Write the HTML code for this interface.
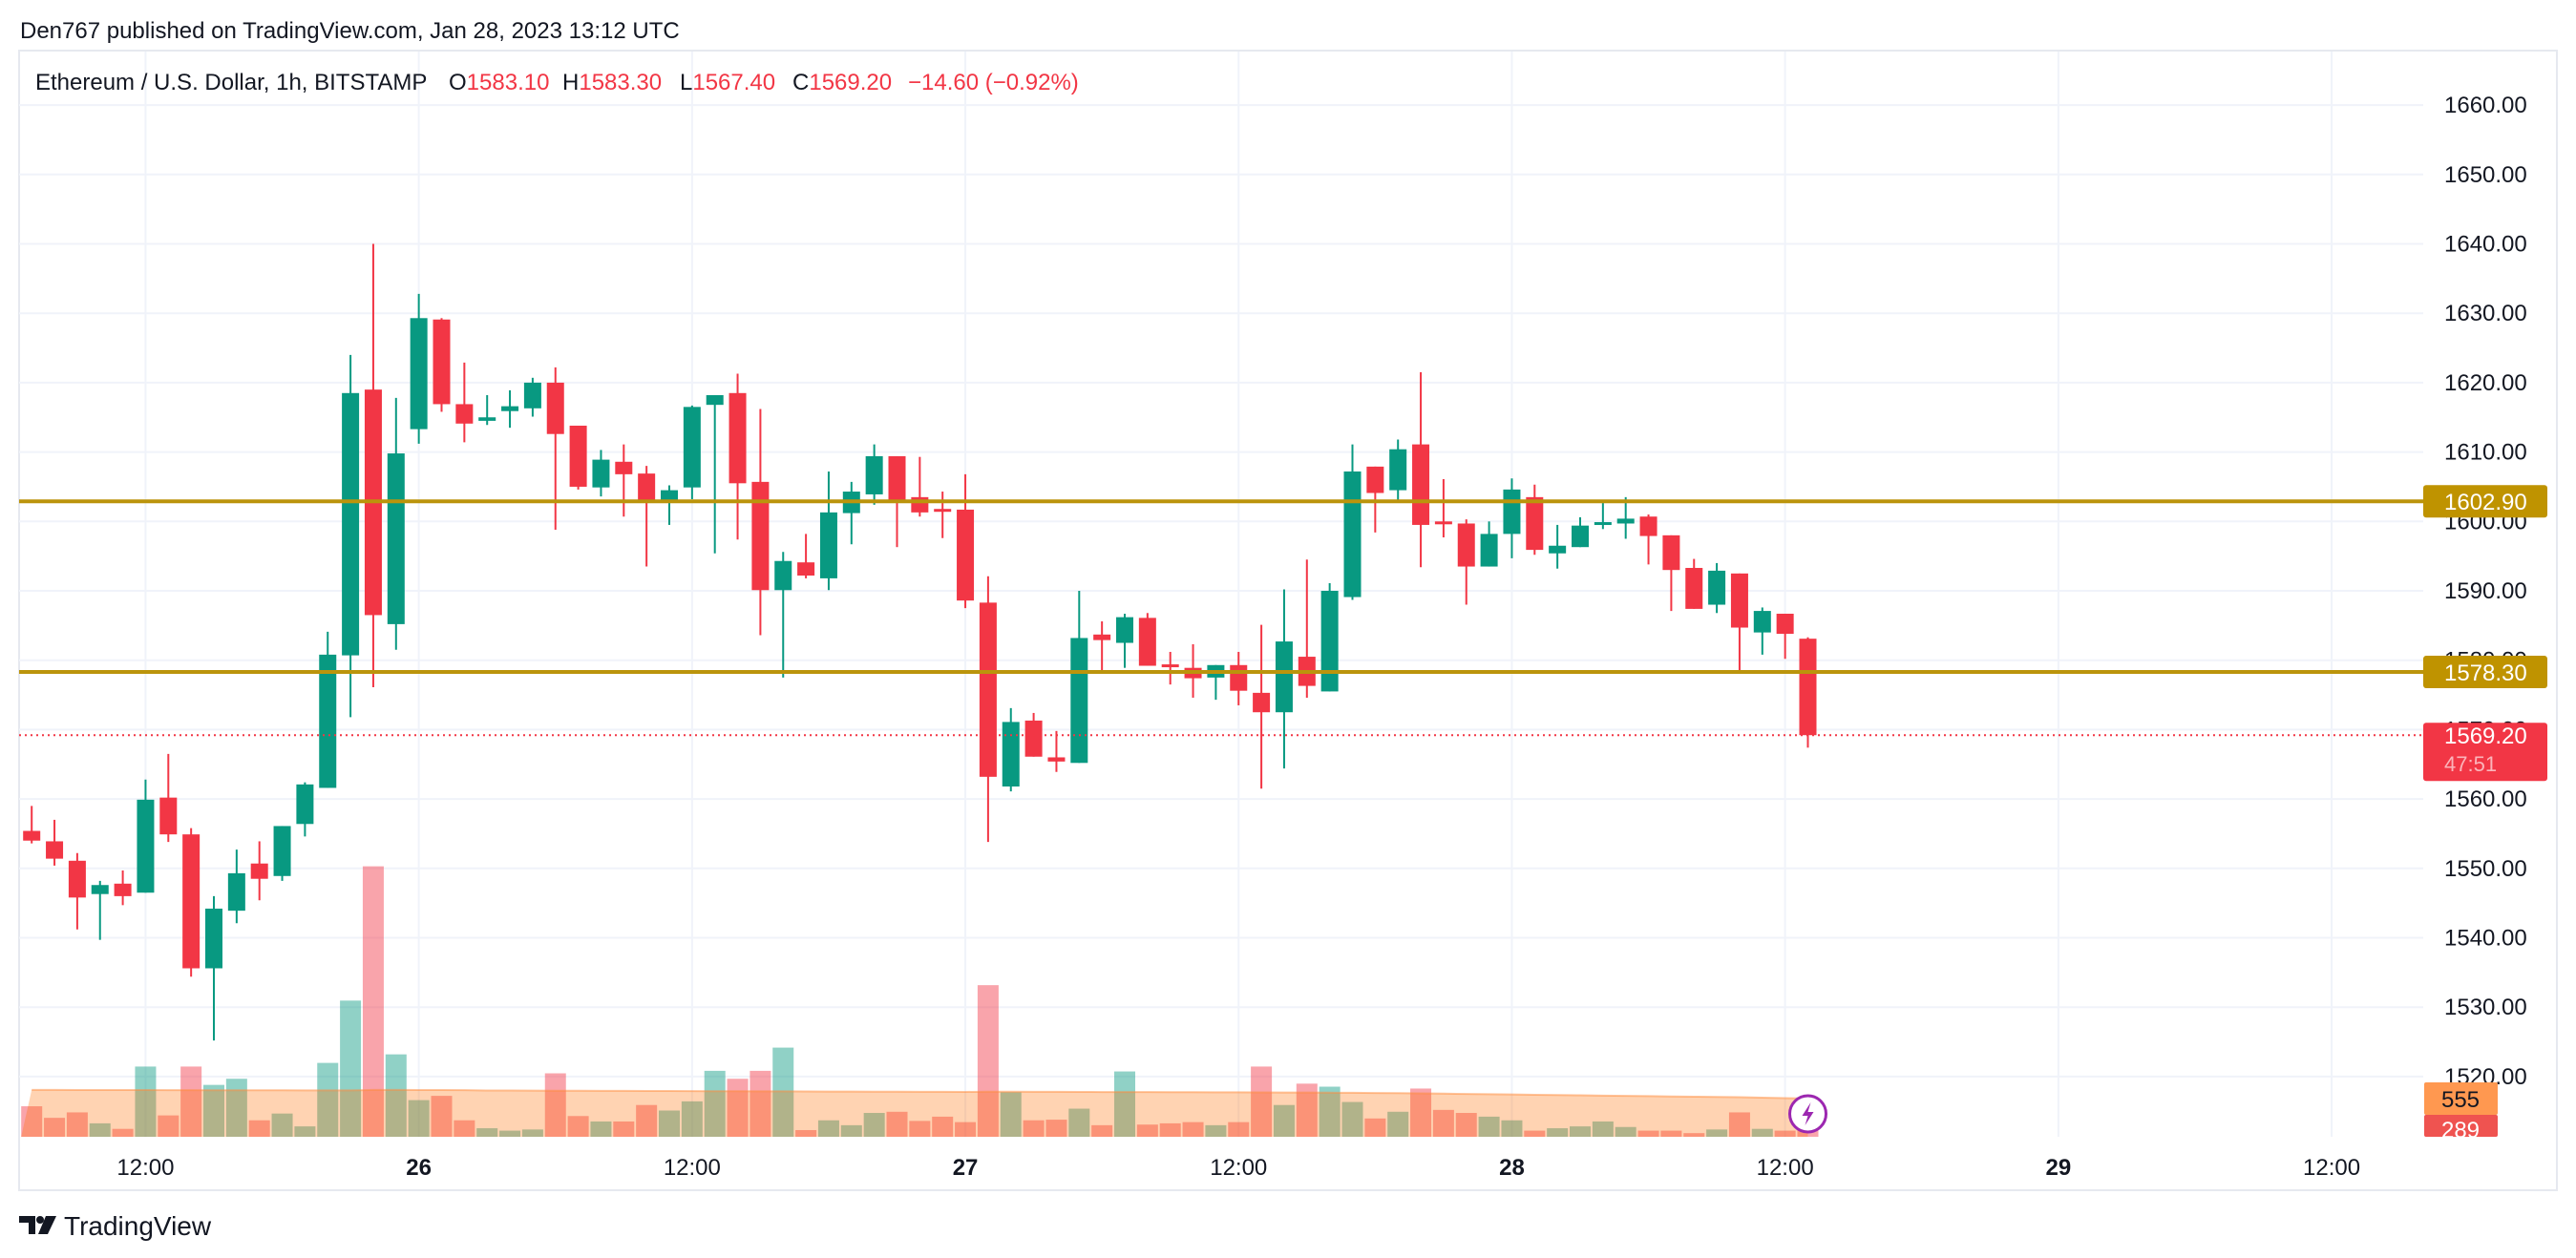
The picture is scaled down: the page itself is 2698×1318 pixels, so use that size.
<!DOCTYPE html>
<html><head><meta charset="utf-8"><style>
html,body{margin:0;padding:0;background:#fff;width:2698px;height:1318px;overflow:hidden}
svg{display:block;font-family:"Liberation Sans",sans-serif}
</style></head><body>
<svg id="chart" width="2698" height="1318" viewBox="0 0 2698 1318" xmlns="http://www.w3.org/2000/svg">
<rect x="0" y="0" width="2698" height="1318" fill="#fff"/>
<text x="21" y="40" font-size="24" fill="#131722">Den767 published on TradingView.com, Jan 28, 2023 13:12 UTC</text>
<rect x="20" y="53" width="2658" height="1194" fill="none" stroke="#e6e9ef" stroke-width="2"/>
<g id="grid"></g>
<g id="vol"></g>
<g id="candles"></g>
<g id="lines"></g>
<g id="axis"></g>
<g id="labels"></g>
<text x="37" y="94" font-size="24" fill="#131722">Ethereum / U.S. Dollar, 1h, BITSTAMP<tspan x="470">O</tspan><tspan fill="#f23645">1583.10</tspan><tspan x="589">H</tspan><tspan fill="#f23645">1583.30</tspan><tspan x="712">L</tspan><tspan fill="#f23645">1567.40</tspan><tspan x="830">C</tspan><tspan fill="#f23645">1569.20</tspan><tspan x="951" fill="#f23645">−14.60 (−0.92%)</tspan></text>
<g>
<path d="M20 1274 h17 v19 h-7 v-12 h-10 z" fill="#131722"/>
<circle cx="42" cy="1278" r="4" fill="#131722"/>
<path d="M48 1274 h11 l-9 19 h-10 z" fill="#131722"/>
<text x="67" y="1294" font-size="28" fill="#131722">TradingView</text>
</g>
</svg>
<script>
const opens=[1555.4,1553.9,1551.1,1546.3,1547.8,1546.5,1560.2,1554.9,1535.6,1543.9,1550.7,1548.9,1556.4,1561.6,1580.7,1619.0,1585.2,1613.3,1629.1,1616.9,1614.5,1615.9,1616.3,1620.0,1613.8,1604.9,1608.6,1606.9,1602.7,1604.9,1616.8,1618.5,1605.7,1590.1,1594.1,1591.8,1601.2,1603.9,1609.4,1603.5,1601.8,1601.7,1588.3,1561.8,1571.3,1566.0,1565.2,1583.7,1582.5,1586.1,1579.4,1578.9,1577.5,1579.3,1575.3,1572.5,1580.5,1575.5,1589.1,1607.9,1604.5,1611.1,1600.0,1599.7,1593.5,1598.2,1603.5,1595.4,1596.3,1599.5,1599.7,1600.7,1598.0,1593.3,1588.0,1592.5,1584.0,1586.7,1583.1];
const highs=[1559.0,1557.0,1552.2,1548.2,1549.7,1562.8,1566.5,1555.8,1546.0,1552.7,1553.9,1556.1,1562.4,1584.1,1624.0,1640.0,1617.8,1632.8,1629.3,1622.9,1618.2,1618.9,1620.7,1622.2,1613.8,1610.3,1611.1,1608.0,1605.2,1616.7,1618.2,1621.3,1616.2,1595.6,1598.2,1607.2,1605.7,1611.1,1609.4,1609.3,1604.3,1606.8,1592.1,1573.1,1572.4,1569.8,1590.0,1585.6,1586.7,1586.8,1581.2,1582.3,1579.3,1581.2,1585.1,1590.2,1594.5,1591.1,1611.1,1607.9,1611.8,1621.5,1606.1,1600.3,1600.0,1606.2,1605.3,1599.5,1600.6,1602.9,1603.5,1601.0,1598.0,1594.6,1594.0,1592.5,1587.6,1586.7,1583.3];
const lows=[1553.6,1550.4,1541.2,1539.7,1544.7,1546.5,1553.8,1534.4,1525.2,1542.1,1545.4,1548.2,1554.6,1561.6,1571.8,1576.1,1581.5,1611.2,1615.8,1611.4,1613.9,1613.5,1615.1,1598.8,1604.6,1603.6,1600.7,1593.5,1599.5,1603.2,1595.4,1597.4,1583.6,1577.5,1591.8,1590.1,1596.7,1602.4,1596.3,1600.7,1597.6,1587.5,1553.8,1561.1,1566.1,1563.9,1565.2,1578.5,1578.9,1579.2,1576.5,1574.6,1574.3,1573.5,1561.5,1564.4,1574.6,1575.5,1588.7,1598.4,1602.8,1593.4,1597.7,1588.0,1593.5,1594.7,1595.2,1593.2,1596.3,1598.9,1597.5,1593.8,1587.1,1587.4,1586.8,1578.3,1580.8,1580.2,1567.4];
const closes=[1554.0,1551.4,1545.8,1547.6,1546.0,1559.9,1554.9,1535.6,1544.2,1549.3,1548.5,1556.1,1562.1,1580.8,1618.5,1586.5,1609.8,1629.3,1616.9,1614.1,1615.0,1616.6,1620.0,1612.6,1605.0,1608.9,1606.8,1602.7,1604.5,1616.5,1618.2,1605.5,1590.1,1594.3,1592.2,1601.3,1604.3,1609.4,1602.9,1601.3,1601.6,1588.6,1563.2,1571.1,1566.1,1565.4,1583.2,1582.9,1586.2,1579.2,1579.0,1577.4,1579.3,1575.6,1572.5,1582.7,1576.3,1590.0,1607.2,1604.1,1610.4,1599.5,1599.6,1593.5,1598.2,1604.6,1595.9,1596.5,1599.4,1599.9,1600.4,1597.9,1593.0,1587.4,1592.9,1584.7,1587.1,1583.8,1569.2];
const volumes=[443,275,354,195,115,1019,310,1019,753,842,239,337,151,1072,1976,3925,1196,532,594,239,124,89,106,921,301,222,222,461,381,514,957,842,957,1294,97,239,168,346,363,230,292,213,2200,647,239,248,408,168,948,177,195,213,168,213,1019,461,771,727,505,266,363,700,390,346,292,239,89,124,151,222,142,89,89,53,106,354,115,89,289];
const volMA=[680,680,679,679,678,678,677,677,676,676,675,675,674,674,673,680,680,679,678,677,672,671,670,669,668,667,666,665,664,663,662,661,660,659,658,657,656,655,654,653,652,651,655,654,653,652,651,650,650,649,648,647,646,645,644,643,642,640,638,636,633,630,626,622,618,614,610,606,602,598,594,590,586,582,578,574,568,561,555];
const priceTicks=[1520,1530,1540,1550,1560,1570,1580,1590,1600,1610,1620,1630,1640,1650,1660];
const timeIdx=[5,17,29,41,53,65,77,89,101];
const timeLabels=["12:00","26","12:00","27","12:00","28","12:00","29","12:00"];
const timeBold=[false,true,false,true,false,true,false,true,false];
const levels=[1602.9,1578.3];
const lastPrice=1569.2, lastVol=289, maLast=555;

const NS="http://www.w3.org/2000/svg";
const X0=33.2, STEP=23.85, PL=20, PR=2538;
const px=i=>X0+i*STEP;
const py=p=>255.5+(1640-p)*7.27;
const vy=v=>1191-v*0.0722;
function mk(tag,parent,attrs){const e=document.createElementNS(NS,tag);for(const k in attrs)e.setAttribute(k,attrs[k]);parent.appendChild(e);return e;}
const G=id=>document.getElementById(id);
const grid=G('grid'),vol=G('vol'),cg=G('candles'),lines=G('lines'),axis=G('axis'),labels=G('labels');

priceTicks.forEach(p=>{
  const l=mk('line',grid,{x1:PL,x2:PR,y1:py(p),y2:py(p),stroke:'#f0f3fa','stroke-width':2});
  
  
  const t=mk('text',axis,{x:2560,y:py(p)+8,'font-size':24,fill:'#131722'});
  t.textContent=p.toFixed(2);
  
  
});
timeIdx.forEach((ix,k)=>{
  const l=mk('line',grid,{x1:px(ix),x2:px(ix),y1:54,y2:1191,stroke:'#f0f3fa','stroke-width':2});
  
  
  const t=mk('text',axis,{x:px(ix),y:1231,'font-size':24,fill:'#131722','text-anchor':'middle','font-weight':timeBold[k]?'bold':'normal'});
  t.textContent=timeLabels[k];
  
  
});

// volume bars
volumes.forEach((v,i)=>{
  const up=closes[i]>=opens[i];
  const r=mk('rect',vol,{x:px(i)-11,y:vy(v),width:22,height:1191-vy(v),fill:up?'rgba(8,153,129,0.45)':'rgba(242,54,69,0.45)'});
  
  
});
// volume MA area
let d='M'+(px(0)-11)+' 1191';
volMA.forEach((m,i)=>{d+=' L'+px(i)+' '+vy(m);});
d+=' L'+px(volMA.length-1)+' 1191 Z';
const area=mk('path',vol,{d:d,fill:'rgba(255,109,0,0.3)'});


let d2='';volMA.forEach((m,i)=>{d2+=(i?' L':'M')+px(i)+' '+vy(m);});
const mal=mk('path',vol,{d:d2,fill:'none',stroke:'rgba(255,140,60,0.5)','stroke-width':2});



// candles
opens.forEach((o,i)=>{
  const c=closes[i],up=c>=o,col=up?'#089981':'#f23645';
  const g=mk('g',cg,{});
  
  
  mk('line',g,{x1:px(i),x2:px(i),y1:py(highs[i]),y2:py(lows[i]),stroke:col,'stroke-width':2});
  const top=py(Math.max(o,c)),bot=py(Math.min(o,c));
  mk('rect',g,{x:px(i)-9,y:top,width:18,height:Math.max(bot-top,3),fill:col});
});

// horizontal levels
levels.forEach(lv=>{
  const l=mk('line',lines,{x1:PL,x2:PR,y1:py(lv),y2:py(lv),stroke:'#bb940c','stroke-width':4});
  
  
});
const cur=mk('line',lines,{x1:PL,x2:PR,y1:py(lastPrice),y2:py(lastPrice),stroke:'#f23645','stroke-width':2,'stroke-dasharray':'2 4'});



// axis labels
levels.forEach(lv=>{
  const g=mk('g',labels,{});
  
  
  mk('rect',g,{x:2538,y:py(lv)-17,width:130,height:34,rx:3,fill:'#bf9300'});
  const t=mk('text',g,{x:2560,y:py(lv)+9,'font-size':24,fill:'#fff'});t.textContent=lv.toFixed(2);
});
{
  const g=mk('g',labels,{});
  
  
  const y=py(lastPrice);
  mk('rect',g,{x:2538,y:y-13,width:130,height:61,rx:3,fill:'#f23645'});
  const t=mk('text',g,{x:2560,y:y+9,'font-size':24,fill:'#fff'});t.textContent=lastPrice.toFixed(2);
  const t2=mk('text',g,{x:2560,y:y+38,'font-size':22,fill:'#fbb4ba'});t2.textContent='47:51';
}
{
  const g=mk('g',labels,{});
  
  
  mk('rect',g,{x:2539,y:1134,width:77,height:34,rx:2,fill:'#ff9850'});
  const t=mk('text',g,{x:2577,y:1160,'font-size':24,fill:'#131722','text-anchor':'middle'});t.textContent=String(maLast);
  const g2=mk('g',labels,{});
  
  
  mk('rect',g2,{x:2539,y:1168,width:77,height:23,rx:2,fill:'#ef5350'});
  const t2=mk('text',g2,{x:2577,y:1192,'font-size':24,fill:'#fff','text-anchor':'middle'});t2.textContent=String(lastVol);
}
// lightning icon
{
  const g=mk('g',labels,{});
  
  
  const cx=px(78),cy=1167;
  mk('circle',g,{cx:cx,cy:cy,r:19,fill:'#fff',stroke:'#9c27b0','stroke-width':3});
  mk('path',g,{d:`M${cx+3} ${cy-12} L${cx-6} ${cy+2} L${cx} ${cy+2} L${cx-3} ${cy+12} L${cx+6} ${cy-2} L${cx} ${cy-2} Z`,fill:'#9c27b0'});
}
</script>
</body></html>
